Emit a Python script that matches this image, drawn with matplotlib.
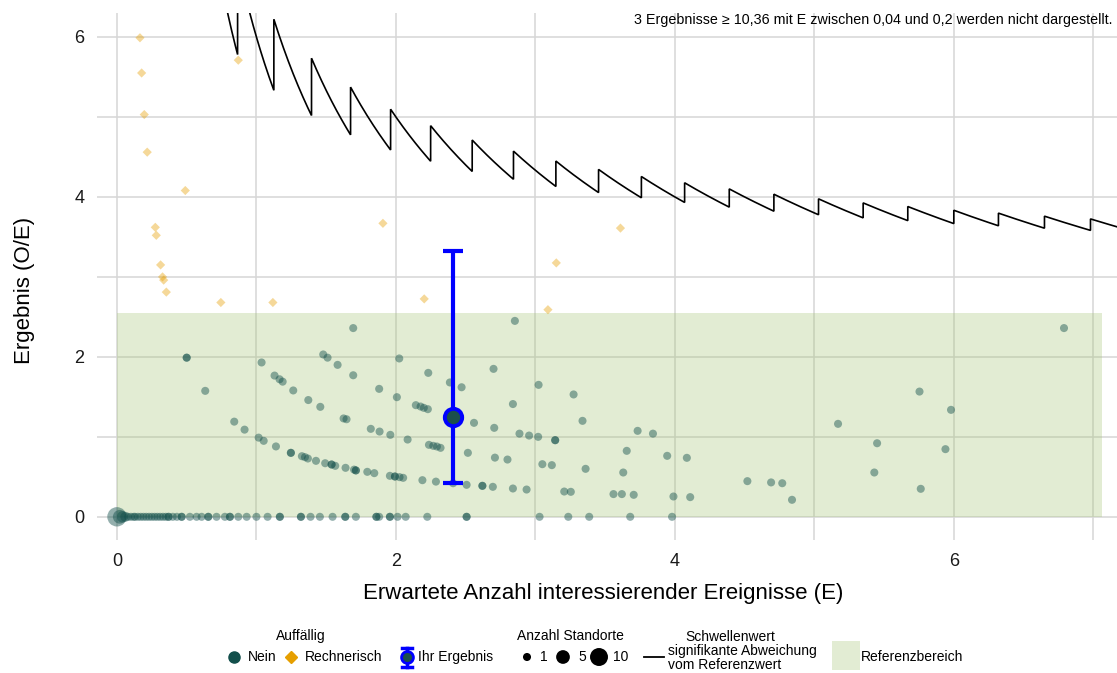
import numpy as np
import matplotlib
matplotlib.use("Agg")
import matplotlib.pyplot as plt
from matplotlib.patches import Rectangle

plt.rcParams['font.family'] = ['Liberation Sans', 'DejaVu Sans']

# ---------------- data ----------------
# "Nein" (not conspicuous) results: expected events E, ratio O/E, number of sites
nein_E = [0.0, 0.02, 0.04, 0.06, 0.08, 0.10, 0.12, 0.13, 0.15, 0.17, 0.19, 0.21, 0.23, 0.25,
          0.27, 0.29, 0.31, 0.33, 0.35, 0.37, 0.37, 0.40, 0.43, 0.464, 0.464, 0.523, 0.571,
          0.607, 0.655, 0.655, 0.714, 0.774, 0.81, 0.81, 0.87, 0.93, 1.0, 1.08, 1.168, 1.168,
          1.319, 1.319, 1.388, 1.455, 1.546, 1.637, 1.637, 1.713, 1.86, 1.86, 1.88, 1.957,
          1.957, 2.012, 2.07, 2.225, 2.507, 2.507, 3.03, 3.236, 3.386, 3.68, 3.98,
          0.5, 0.5, 0.633, 0.841, 0.915, 1.016, 1.052, 1.14, 1.247, 1.247, 1.326, 1.348, 1.369,
          1.427, 1.493, 1.539, 1.539, 1.565, 1.639, 1.70, 1.713, 1.713, 1.795, 1.845, 1.957,
          1.993, 1.993, 2.026, 2.052, 2.19, 2.287, 2.41, 2.507, 2.62, 2.62, 2.695, 2.839, 2.937,
          3.207, 3.254, 3.56, 3.62, 3.705, 3.99, 4.11, 4.84,
          1.037, 1.13, 1.166, 1.188, 1.264, 1.372, 1.458, 1.625, 1.646, 1.82, 1.883, 1.96,
          2.084, 2.237, 2.268, 2.294, 2.32, 2.516, 2.71, 2.80, 3.05, 3.118, 3.36, 3.63, 4.52,
          4.69, 4.77, 5.763,
          1.479, 1.51, 1.582, 1.694, 1.88, 2.007, 2.143, 2.177, 2.20, 2.229, 2.41, 2.56, 2.705,
          2.886, 2.955, 3.02, 3.142, 3.142, 3.655, 3.945, 4.086, 5.43,
          2.024, 2.232, 2.387, 2.471, 2.839, 3.338, 3.733, 3.843, 1.694,
          2.70, 3.023, 3.274, 5.45, 5.94,
          2.853, 5.17, 5.754, 5.98, 6.79]
nein_OE = [0.0] * 63 + \
          [1.99, 1.99, 1.575, 1.19, 1.09, 0.99, 0.95, 0.88, 0.80, 0.80, 0.758, 0.746, 0.729,
           0.70, 0.67, 0.654, 0.654, 0.6375, 0.6125, 0.59, 0.58, 0.58, 0.5625, 0.546, 0.5125,
           0.504, 0.504, 0.496, 0.4875, 0.458, 0.44, 0.42, 0.40, 0.3875, 0.3875, 0.375, 0.354,
           0.341, 0.316, 0.3125, 0.284, 0.284, 0.275, 0.254, 0.246, 0.2125,
           1.93, 1.766, 1.72, 1.69, 1.58, 1.46, 1.375, 1.23, 1.22, 1.10, 1.066, 1.025,
           0.966, 0.90, 0.8875, 0.879, 0.8625, 0.80, 0.74, 0.716, 0.658, 0.646, 0.60, 0.554,
           0.446, 0.43, 0.42, 0.35,
           2.03, 1.99, 1.90, 1.77, 1.60, 1.496, 1.396, 1.379, 1.3625, 1.346, 1.246, 1.175,
           1.1125, 1.04, 1.016, 1.0, 0.958, 0.958, 0.825, 0.7625, 0.7375, 0.554,
           1.98, 1.80, 1.68, 1.62, 1.41, 1.20, 1.075, 1.04, 2.36,
           1.85, 1.65, 1.53, 0.92, 0.846,
           2.45, 1.1625, 1.566, 1.3375, 2.36]
nein_n = [12, 5, 3, 2] + [1] * (len(nein_E) - 4)

# "Rechnerisch" (computationally conspicuous) results
rech_E = [0.165, 0.177, 0.196, 0.217, 0.49, 0.275, 0.282, 0.313, 0.327, 0.335, 0.354,
          0.745, 1.118, 0.87, 1.907, 2.203, 3.09, 3.15, 3.61]
rech_OE = [5.99, 5.55, 5.03, 4.56, 4.08, 3.62, 3.52, 3.15, 3.0, 2.96, 2.81,
           2.68, 2.68, 5.71, 3.67, 2.725, 2.59, 3.175, 3.61]

# own result with confidence interval
own_E = 2.41
own_OE = 1.246
own_lo = 0.42
own_hi = 3.32

# threshold: observed count k needed for a significant deviation; jumps at these E
thr_jump_E = [0.865, 1.125, 1.395, 1.675, 1.962, 2.249, 2.547, 2.843, 3.147, 3.453, 3.76,
              4.07, 4.39, 4.71, 5.03, 5.35, 5.67, 6.0, 6.32, 6.65, 6.98]
thr_k = list(range(5, 27))
thr_E_start = 0.70
thr_E_end = 7.2

# reference range
ref_lo = 0.0
ref_hi = 2.55
ref_E_max = 7.06

x_ticks = [0, 2, 4, 6]
y_ticks = [0, 2, 4, 6]
legend_sizes = [1, 5, 10]

note = '3 Ergebnisse ≥ 10,36 mit E zwischen 0,04 und 0,2 werden nicht dargestellt.'

# ---------------- style ----------------
W, H = 1117, 673
teal = '#124f4b'
orange = '#e69f00'
blue = '#0000ff'
green = '#a2c370'
gridc = '#d6d6d6'


def size_of(n):
    d = 5.8 + (np.sqrt(n) - 1) * 3.3
    return d ** 2


fig = plt.figure(figsize=(W / 100, H / 100), dpi=100)
ax_l, ax_r, ax_t, ax_b = 97, 1117, 13, 540
ax = fig.add_axes([ax_l / W, 1 - ax_b / H, (ax_r - ax_l) / W, (ax_b - ax_t) / H])
ax.set_xlim(-0.143, 7.17)
ax.set_ylim(-0.29, 6.3)
for s in ax.spines.values():
    s.set_visible(False)

ax.set_xticks(x_ticks)
ax.set_yticks(y_ticks)
ax.set_xticks([1, 3, 5, 7], minor=True)
ax.set_yticks([1, 3, 5], minor=True)
ax.grid(True, which='both', color=gridc, lw=1.1, zorder=0)
ax.set_axisbelow(True)
ax.tick_params(which='both', length=0)
ax.tick_params(axis='x', pad=9, labelsize=13, labelcolor='#1a1a1a')
ax.tick_params(axis='y', pad=9, labelsize=13, labelcolor='#1a1a1a')

# reference range
ax.add_patch(Rectangle((ref_lo, ref_lo), ref_E_max - ref_lo, ref_hi - ref_lo,
                       facecolor=green, alpha=0.3, edgecolor='none', zorder=1))

# threshold curve (k / E between jumps)
segE, segY = [], []
bounds = [thr_E_start] + thr_jump_E + [thr_E_end]
for i, k in enumerate(thr_k):
    e = np.linspace(bounds[i], bounds[i + 1], 40)
    segE.extend(e)
    segY.extend(k / e)
ax.plot(segE, segY, color='black', lw=1.2, zorder=3, solid_joinstyle='miter')

# points
ax.scatter(nein_E, nein_OE, s=[size_of(n) for n in nein_n], color=teal, alpha=0.45,
           edgecolors='none', zorder=4)
ax.scatter(rech_E, rech_OE, s=22, marker='D', color=orange, alpha=0.4,
           edgecolors='none', zorder=4)

# own result
ax.errorbar([own_E], [own_OE], yerr=[[own_OE - own_lo], [own_hi - own_OE]], fmt='none',
            ecolor=blue, elinewidth=3, capsize=7, capthick=3, zorder=5)
ax.plot([own_E], [own_OE], 'o', ms=12.5, mfc='#1b4f4b', mec=blue, mew=2.8, zorder=6)

# ---------------- overlay for texts and legend (pixel coords) ----------------
ov = fig.add_axes([0, 0, 1, 1], facecolor='none')
ov.set_xlim(0, W)
ov.set_ylim(H, 0)
ov.axis('off')

ov.text(1112, 20, note, ha='right', va='center', fontsize=10.3, color='black')
ov.text(603, 593, 'Erwartete Anzahl interessierender Ereignisse (E)', ha='center', va='center',
        fontsize=16, color='black')
ov.text(25, 290, 'Ergebnis (O/E)', ha='center', va='center', rotation=90, fontsize=16,
        color='black')

fs = 10
ly = 657
# Auffällig
ov.text(301, 636, 'Auffällig', ha='center', va='center', fontsize=fs)
ov.plot([233.5], [ly], 'o', ms=8, color=teal)
ov.text(247.5, ly, 'Nein', ha='left', va='center', fontsize=fs)
ov.plot([291], [ly], 'D', ms=6, color=orange)
ov.text(305, ly, 'Rechnerisch', ha='left', va='center', fontsize=fs)
# Ihr Ergebnis
ov.plot([406.5, 406.5], [648, 667], color=blue, lw=2.5)
ov.plot([401.5, 411.5], [648, 648], color=blue, lw=2.5)
ov.plot([401.5, 411.5], [667, 667], color=blue, lw=2.5)
ov.plot([406.5], [ly], 'o', ms=8.5, mfc='#1b4f4b', mec=blue, mew=2)
ov.text(418.5, ly, 'Ihr Ergebnis', ha='left', va='center', fontsize=fs)
# Anzahl Standorte
ov.text(570, 636, 'Anzahl Standorte', ha='center', va='center', fontsize=fs)
for xs, xt, n in zip([527, 563, 599], [540, 578, 612.5], legend_sizes):
    ov.scatter([xs], [ly], s=size_of(n), color='black', edgecolors='none')
    ov.text(xt, ly, str(n), ha='left', va='center', fontsize=fs)
# Schwellenwert
ov.text(730, 637, 'Schwellenwert', ha='center', va='center', fontsize=fs)
ov.plot([644, 664], [ly, ly], color='black', lw=1.3)
ov.text(668.5, 651.5, 'signifikante Abweichung', ha='left', va='center', fontsize=fs)
ov.text(668.5, 665, 'vom Referenzwert', ha='left', va='center', fontsize=fs)
# Referenzbereich
ov.add_patch(Rectangle((832, 641), 28, 29, facecolor=green, alpha=0.3, edgecolor='none'))
ov.text(860.5, ly, 'Referenzbereich', ha='left', va='center', fontsize=fs)

fig.savefig('out.png', dpi=100)
